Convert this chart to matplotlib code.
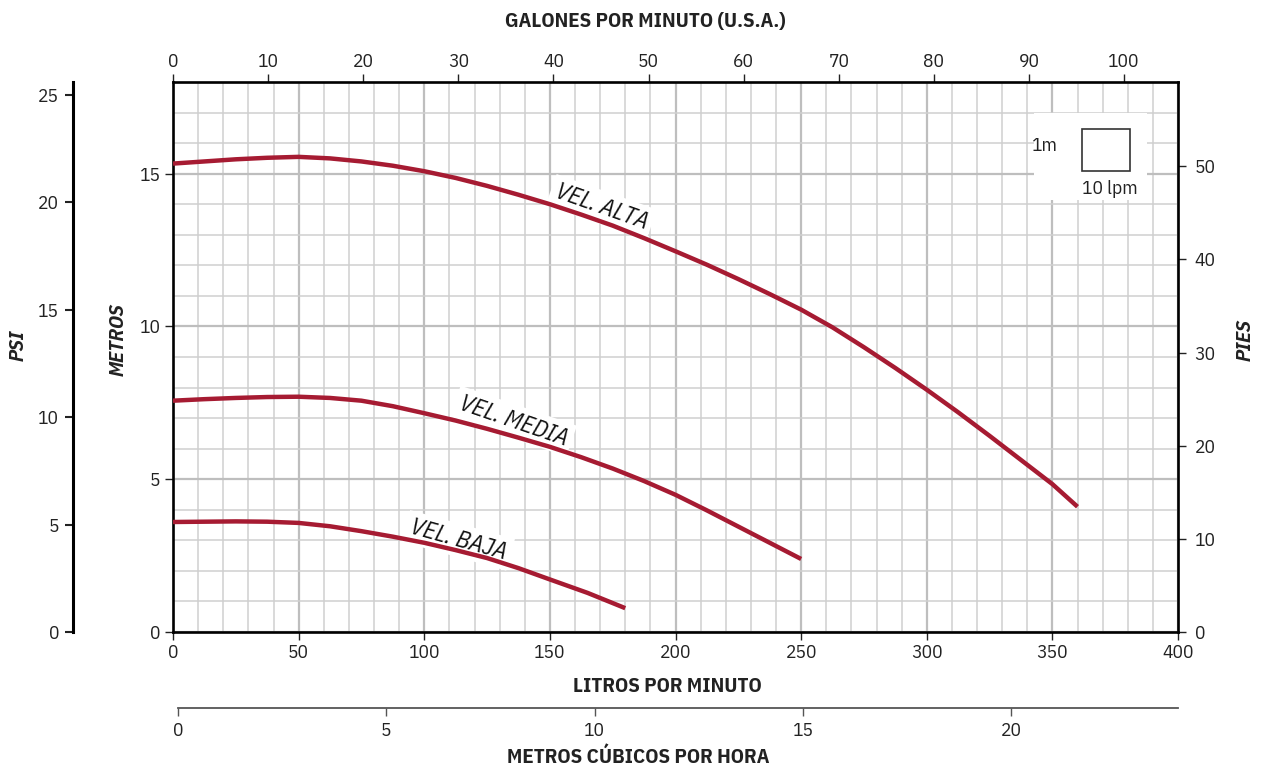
import matplotlib
matplotlib.use('Agg')
import matplotlib.pyplot as plt
from matplotlib.patches import Rectangle
from matplotlib.ticker import MultipleLocator

plt.rcParams.update({
    'font.family': ['IBM Plex Sans Condensed', 'Liberation Sans', 'DejaVu Sans'],
    'font.size': 14,
    'xtick.labelsize': 14,
    'ytick.labelsize': 14,
    'text.color': '#222222',
    'xtick.color': '#222222',
    'ytick.color': '#222222',
})

CURVE_COLOR = '#A61B32'
MAJOR_GRID = '#BEBEBE'
MINOR_GRID = '#CFCFCF'

# ── data ─────────────────────────────────────────────────────────────────────
alta_lpm = [0, 12.5, 25, 37.5, 50, 62.5, 75, 87.5, 100, 112.5, 125, 137.5, 150,
            162.5, 175, 187.5, 200, 212.5, 225, 237.5, 250, 262.5, 275, 287.5,
            300, 312.5, 325, 337.5, 350, 360]
alta_m   = [15.33, 15.40, 15.47, 15.52, 15.55, 15.50, 15.40, 15.26, 15.08, 14.86,
            14.60, 14.31, 14.00, 13.66, 13.30, 12.89, 12.46, 12.02, 11.55, 11.06,
            10.55, 9.97, 9.32, 8.64, 7.93, 7.19, 6.42, 5.63, 4.84, 4.10]

media_lpm = [0, 12.5, 25, 37.5, 50, 62.5, 75, 87.5, 100, 112.5, 125, 137.5, 150,
             162.5, 175, 187.5, 200, 212.5, 225, 237.5, 250]
media_m   = [7.57, 7.62, 7.66, 7.69, 7.70, 7.66, 7.57, 7.39, 7.16, 6.92, 6.65,
             6.36, 6.06, 5.72, 5.35, 4.94, 4.49, 3.98, 3.45, 2.92, 2.39]

baja_lpm = [0, 12.5, 25, 37.5, 50, 62.5, 75, 87.5, 100, 112.5, 125, 137.5, 150,
            165, 180]
baja_m   = [3.60, 3.61, 3.62, 3.61, 3.57, 3.46, 3.30, 3.12, 2.92, 2.68, 2.42,
            2.09, 1.72, 1.28, 0.78]

curve_labels = ['VEL. ALTA', 'VEL. MEDIA', 'VEL. BAJA']
label_lpm    = [170.5, 135.5, 113.5]
label_m      = [13.90, 6.90, 3.00]
label_rot    = [-19.5, -19, -15.5]

lpm_ticks  = [0, 50, 100, 150, 200, 250, 300, 350, 400]
m_ticks    = [0, 5, 10, 15]
gal_ticks  = [0, 10, 20, 30, 40, 50, 60, 70, 80, 90, 100]
ft_ticks   = [0, 10, 20, 30, 40, 50]
psi_ticks  = [0, 5, 10, 15, 20, 25]
m3h_ticks  = [0, 5, 10, 15, 20]

LPM_PER_GAL = 3.78541
FT_PER_M = 1 / 0.3048
PSI_PER_M = 1.42197

# ── figure ───────────────────────────────────────────────────────────────────
fig = plt.figure(figsize=(12.62, 7.68), dpi=100)
ax = fig.add_axes([173 / 1262, 1 - 632 / 768, 1005 / 1262, 550 / 768])

ax.set_xlim(0, 400)
ax.set_ylim(0, 18)

ax.xaxis.set_minor_locator(MultipleLocator(10))
ax.yaxis.set_minor_locator(MultipleLocator(1))
ax.set_xticks(lpm_ticks)
ax.set_yticks(m_ticks)
ax.grid(which='minor', color=MINOR_GRID, linewidth=1.1, zorder=0)
ax.grid(which='major', color=MAJOR_GRID, linewidth=1.6, zorder=0)
ax.set_axisbelow(True)
ax.tick_params(which='minor', length=0)
ax.tick_params(which='major', direction='out', length=6, width=1, pad=3)

for s in ax.spines.values():
    s.set_linewidth(1.9)
    s.set_color('black')

for xs, ys in [(alta_lpm, alta_m), (media_lpm, media_m), (baja_lpm, baja_m)]:
    ax.plot(xs, ys, color=CURVE_COLOR, linewidth=3.2, solid_capstyle='butt',
            solid_joinstyle='round', zorder=4)

for txt, x, y, r in zip(curve_labels, label_lpm, label_m, label_rot):
    ax.text(x, y, txt, rotation=r, rotation_mode='anchor', ha='center', va='center',
            fontsize=17.5, fontstyle='italic', color='#111111', zorder=3,
            bbox=dict(boxstyle='square,pad=0.2', fc='white', ec='none'))

# scale legend (1m x 10 lpm)
ax.add_patch(Rectangle((0.8567, 0.7855), 0.1125, 0.158, transform=ax.transAxes,
                       fc='white', ec='none', zorder=2))
ax.add_patch(Rectangle((0.9048, 0.8387), 0.0474, 0.0758, transform=ax.transAxes,
                       fc='white', ec='#333333', lw=1.2, zorder=3))
ax.text(0.8677, 0.8836, '1m', transform=ax.transAxes, ha='center', va='center',
        fontsize=14, zorder=3)
ax.text(0.9323, 0.806, '10 lpm', transform=ax.transAxes, ha='center', va='center',
        fontsize=14, zorder=3)

# gallons (top)
gal = ax.secondary_xaxis('top', functions=(lambda x: x / LPM_PER_GAL,
                                           lambda g: g * LPM_PER_GAL))
gal.set_xticks(gal_ticks)
gal.tick_params(direction='out', length=6, width=1, pad=2)

# feet (right)
ft = ax.secondary_yaxis('right', functions=(lambda m: m * FT_PER_M,
                                            lambda f: f / FT_PER_M))
ft.set_yticks(ft_ticks)
ft.tick_params(direction='out', length=6, width=1, pad=6)

# psi (far left)
psi = ax.secondary_yaxis(-100 / 1005, functions=(lambda m: m * PSI_PER_M,
                                                 lambda p: p / PSI_PER_M))
psi.set_yticks(psi_ticks)
psi.tick_params(direction='out', length=6, width=1.5, pad=4)
psi.spines['left'].set_linewidth(2.2)

# m3/h (below)
m3 = fig.add_axes([178 / 1262, 1 - 708 / 768, 1000 / 1262, 0.0001])
m3.set_xlim(0, 400 * 60 / 1000)
m3.set_xticks(m3h_ticks)
m3.set_yticks([])
m3.patch.set_alpha(0)
for side in ['top', 'left', 'right']:
    m3.spines[side].set_visible(False)
m3.spines['bottom'].set_color('#555555')
m3.spines['bottom'].set_linewidth(1.3)
m3.tick_params(axis='x', direction='out', length=6, width=1, color='#555555', pad=4)

# axis titles
title_kw = dict(ha='center', va='center', fontsize=15, fontweight='bold')
fig.text(645 / 1262, 1 - 22 / 768, 'GALONES POR MINUTO (U.S.A.)', **title_kw)
fig.text(667 / 1262, 1 - 686 / 768, 'LITROS POR MINUTO', **title_kw)
fig.text(638 / 1262, 1 - 757 / 768, 'METROS CÚBICOS POR HORA', **title_kw)
fig.text(118 / 1262, 1 - 340 / 768, 'METROS', rotation=90, fontstyle='italic', **title_kw)
fig.text(18 / 1262, 1 - 345 / 768, 'PSI', rotation=90, fontstyle='italic', **title_kw)
fig.text(1245 / 1262, 1 - 340 / 768, 'PIES', rotation=90, fontstyle='italic', **title_kw)

fig.savefig('out.png', dpi=100, facecolor='white')
